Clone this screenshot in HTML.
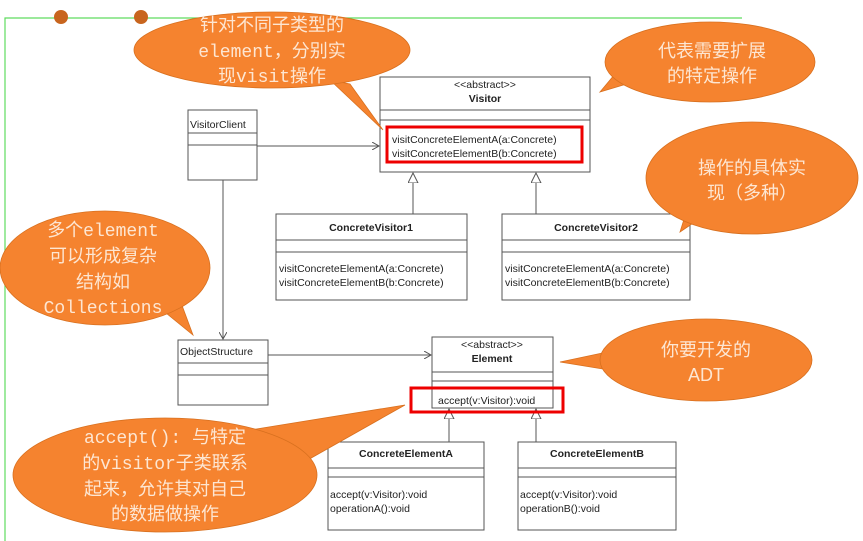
<!DOCTYPE html>
<html><head><meta charset="utf-8"><style>
body{margin:0;background:#fff;width:863px;height:541px;overflow:hidden}
svg{display:block}
.u{font-family:"Liberation Sans",sans-serif;font-size:10.5px;fill:#222}
.b{font-weight:bold}
.c{font-family:"Liberation Mono","Noto Sans CJK SC",monospace;font-size:18px;fill:#fde6d2;text-anchor:middle}
</style></head><body>
<svg width="863" height="541" viewBox="0 0 863 541">
<defs>
<marker id="op" markerWidth="8" markerHeight="8" refX="7" refY="4" orient="auto"><path d="M0,0 L7,4 L0,8" fill="none" stroke="#555" stroke-width="1"/></marker>
<marker id="tri" markerWidth="12" markerHeight="12" refX="10" refY="5" orient="auto"><path d="M0,0 L10,5 L0,10 Z" fill="#fff" stroke="#555" stroke-width="1"/></marker>
</defs>
<polyline points="5,541 5,18 742,18" fill="none" stroke="#5fdc5f" stroke-width="1.2"/>
<circle cx="61" cy="17" r="7" fill="#c8651e"/><circle cx="141" cy="17" r="7" fill="#c8651e"/>

<g stroke="#555" stroke-width="1" fill="#fff">
<rect x="380" y="77" width="210" height="95"/><line x1="380" y1="110" x2="590" y2="110"/><line x1="380" y1="120" x2="590" y2="120"/>
<rect x="188" y="110" width="69" height="70"/><line x1="188" y1="133" x2="257" y2="133"/><line x1="188" y1="145" x2="257" y2="145"/>
<rect x="276" y="214" width="191" height="86"/><line x1="276" y1="240" x2="467" y2="240"/><line x1="276" y1="252" x2="467" y2="252"/>
<rect x="502" y="214" width="188" height="86"/><line x1="502" y1="240" x2="690" y2="240"/><line x1="502" y1="252" x2="690" y2="252"/>
<rect x="178" y="340" width="90" height="65"/><line x1="178" y1="363" x2="268" y2="363"/><line x1="178" y1="375" x2="268" y2="375"/>
<rect x="432" y="337" width="121" height="71"/><line x1="432" y1="372" x2="553" y2="372"/><line x1="432" y1="381" x2="553" y2="381"/>
<rect x="328" y="442" width="156" height="88"/><line x1="328" y1="468" x2="484" y2="468"/><line x1="328" y1="477" x2="484" y2="477"/>
<rect x="518" y="442" width="158" height="88"/><line x1="518" y1="468" x2="676" y2="468"/><line x1="518" y1="477" x2="676" y2="477"/>
<g fill="none">
<line x1="257" y1="146" x2="379" y2="146" marker-end="url(#op)"/>
<line x1="223" y1="180" x2="223" y2="339" marker-end="url(#op)"/>
<line x1="268" y1="355" x2="431" y2="355" marker-end="url(#op)"/>
<line x1="413" y1="214" x2="413" y2="173" marker-end="url(#tri)"/>
<line x1="536" y1="214" x2="536" y2="173" marker-end="url(#tri)"/>
<line x1="449" y1="442" x2="449" y2="409" marker-end="url(#tri)"/>
<line x1="536" y1="442" x2="536" y2="409" marker-end="url(#tri)"/>
</g></g>
<rect x="387" y="127" width="195" height="35" fill="none" stroke="#e00" stroke-width="3"/>
<rect x="411" y="388" width="152" height="24" fill="none" stroke="#e00" stroke-width="3"/>

<text class="u" x="485" y="88" text-anchor="middle" font-size="9.5">&lt;&lt;abstract&gt;&gt;</text>
<text class="u b" x="485" y="102" text-anchor="middle">Visitor</text>
<text class="u" x="392" y="143">visitConcreteElementA(a:Concrete)</text>
<text class="u" x="392" y="157">visitConcreteElementB(b:Concrete)</text>
<text class="u" x="190" y="128">VisitorClient</text>
<text class="u b" x="371" y="231" text-anchor="middle">ConcreteVisitor1</text>
<text class="u" x="279" y="272">visitConcreteElementA(a:Concrete)</text>
<text class="u" x="279" y="286">visitConcreteElementB(b:Concrete)</text>
<text class="u b" x="596" y="231" text-anchor="middle">ConcreteVisitor2</text>
<text class="u" x="505" y="272">visitConcreteElementA(a:Concrete)</text>
<text class="u" x="505" y="286">visitConcreteElementB(b:Concrete)</text>
<text class="u" x="180" y="355">ObjectStructure</text>
<text class="u" x="492" y="348" text-anchor="middle" font-size="9.5">&lt;&lt;abstract&gt;&gt;</text>
<text class="u b" x="492" y="362" text-anchor="middle">Element</text>
<text class="u" x="438" y="404">accept(v:Visitor):void</text>
<text class="u b" x="406" y="457" text-anchor="middle">ConcreteElementA</text>
<text class="u" x="330" y="498">accept(v:Visitor):void</text>
<text class="u" x="330" y="512">operationA():void</text>
<text class="u b" x="597" y="457" text-anchor="middle">ConcreteElementB</text>
<text class="u" x="520" y="498">accept(v:Visitor):void</text>
<text class="u" x="520" y="512">operationB():void</text>

<g fill="#f5832f" stroke="#d8701f" stroke-width="0.8">
<path d="M330,80 L383,130 L350,84 Z"/><ellipse cx="272" cy="50" rx="138" ry="38"/>
<path d="M640,80 L600,92 L625,62 Z"/><ellipse cx="710" cy="62" rx="105" ry="40"/>
<path d="M705,215 L680,232 L690,200 Z"/><ellipse cx="752" cy="178" rx="106" ry="56"/>
<path d="M150,300 L193,335 L180,300 Z"/><ellipse cx="105" cy="268" rx="105" ry="57"/>
<path d="M640,345 L560,362 L640,375 Z"/><ellipse cx="706" cy="360" rx="106" ry="41"/>
<path d="M250,430 L405,405 L290,470 Z"/><ellipse cx="165" cy="475" rx="152" ry="57"/>
</g>

<text class="c" x="272" y="31">针对不同子类型的</text>
<text class="c" x="272" y="57">element，分别实</text>
<text class="c" x="272" y="82">现visit操作</text>
<text class="c" x="712" y="57">代表需要扩展</text>
<text class="c" x="712" y="82">的特定操作</text>
<text class="c" x="752" y="174">操作的具体实</text>
<text class="c" x="752" y="199">现（多种）</text>
<text class="c" x="103" y="236">多个element</text>
<text class="c" x="103" y="262">可以形成复杂</text>
<text class="c" x="103" y="288">结构如</text>
<text class="c" x="103" y="313">Collections</text>
<text class="c" x="706" y="356">你要开发的</text>
<text class="c" x="706" y="381" style="font-family:'Liberation Sans',sans-serif">ADT</text>
<text class="c" x="165" y="443">accept(): 与特定</text>
<text class="c" x="165" y="469">的visitor子类联系</text>
<text class="c" x="165" y="495">起来，允许其对自己</text>
<text class="c" x="165" y="520">的数据做操作</text>
</svg>
</body></html>
